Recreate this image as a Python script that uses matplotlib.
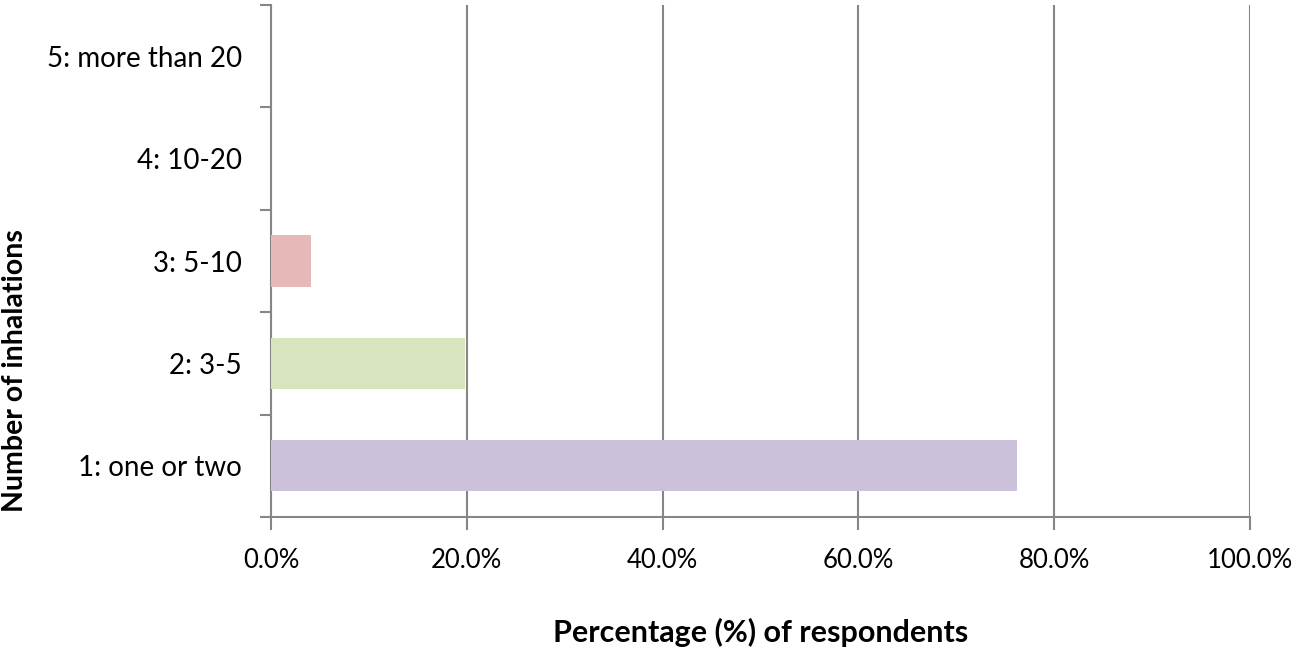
import matplotlib
matplotlib.use("Agg")
import matplotlib.pyplot as plt
from matplotlib.ticker import FixedLocator, PercentFormatter

categories = ["1: one or two", "2: 3-5", "3: 5-10", "4: 10-20", "5: more than 20"]
values = [76.2, 19.8, 4.1, 0.0, 0.0]
colors = ["#CCC1DA", "#D7E4BD", "#E6B9B8", "#B9CDE5", "#FCD5B5"]
xticks = [0, 20, 40, 60, 80, 100]

plt.rcParams['font.family'] = ['Lato', 'DejaVu Sans']

fig = plt.figure(figsize=(12.99, 6.49), dpi=100)
ax = fig.add_axes([271/1299, 1-517/649, (1250-271)/1299, (517-5)/649])

gray = "#868686"
ypos = list(range(len(categories)))
ax.barh(ypos, values, height=0.5, color=colors[:len(values)], zorder=3)

ax.set_xlim(0, 100)
ax.set_ylim(-0.5, len(categories)-0.5)
ax.xaxis.set_major_locator(FixedLocator(xticks))
ax.xaxis.set_major_formatter(PercentFormatter(decimals=1))
ax.grid(axis='x', color=gray, linewidth=1.5, zorder=0)
ax.set_axisbelow(True)

ax.set_yticks(ypos)
ax.set_yticklabels(categories)
ax.set_yticks([i - 0.5 for i in range(len(categories)+1)], minor=True)
ax.tick_params(axis='y', which='major', length=0, pad=21, labelsize=20)
ax.tick_params(axis='y', which='minor', length=8, width=1.5, color=gray)
ax.tick_params(axis='x', length=9, width=1.5, color=gray, pad=13, labelsize=18.5)

for s in ['top', 'right']:
    ax.spines[s].set_visible(False)
for s in ['left', 'bottom']:
    ax.spines[s].set_color(gray)
    ax.spines[s].set_linewidth(1.5)

ax.set_xlabel("Percentage (%) of respondents", fontsize=22, fontweight='bold')
ax.xaxis.set_label_coords(0.5, (517-632)/512)
ax.xaxis.label.set_va('center')
ax.set_ylabel("Number of inhalations", fontsize=20.5, fontweight='bold')
ax.yaxis.set_label_coords((15-271)/979, (517-371)/512)
ax.yaxis.label.set_va('center')

fig.savefig("out.png", dpi=100)
